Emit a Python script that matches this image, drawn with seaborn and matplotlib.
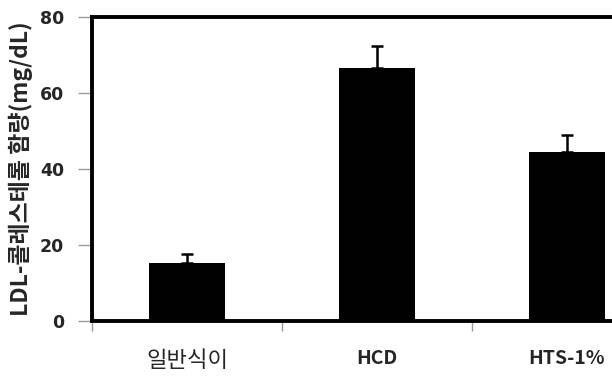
import matplotlib
matplotlib.use("Agg")
import matplotlib.pyplot as plt
import seaborn as sns
import pandas as pd

categories = ["일반식이", "HCD", "HTS-1%"]
values = [15.3, 66.7, 44.6]
errors = [2.4, 5.7, 4.3]
y_ticks = [0, 20, 40, 60, 80]
y_label = "LDL-콜레스테롤 함량(mg/dL)"

sns.set_theme(style="white")
plt.rcParams['font.family'] = ['Noto Sans CJK KR', 'DejaVu Sans']

df = pd.DataFrame({"group": categories, "value": values})

fig = plt.figure(figsize=(6.12, 3.76), dpi=100)
ax = fig.add_axes([92/612, 1-321/376, 570/612, (321-17)/376])

sns.barplot(data=df, x="group", y="value", color="black", width=0.4,
            saturation=1, ax=ax, errorbar=None, edgecolor="none")
ax.errorbar(range(len(categories)), values,
            yerr=[[0]*len(errors), errors], fmt="none",
            ecolor="black", elinewidth=1.8, capsize=4.5, capthick=1.8)

ax.set_xlim(-0.5, 2.5)
ax.set_ylim(0, 80)
ax.set_yticks(y_ticks)
ax.set_yticklabels([str(t) for t in y_ticks], fontweight="bold", fontsize=12.5,
                   family=['DejaVu Sans'])
ax.set_xticks(range(len(categories)))
ax.set_xticklabels(categories, fontweight="bold", fontsize=14)
ax.set_xticks([-0.5, 0.5, 1.5, 2.5], minor=True)
ax.tick_params(axis="x", which="major", length=0, pad=20)
ax.tick_params(axis="x", which="minor", length=7, color="#999999", width=1,
               direction="out", bottom=True)
ax.tick_params(axis="y", length=10, color="#999999", width=1, direction="out",
               left=True, pad=10)
labels = ax.get_xticklabels()
labels[0].set_fontweight("normal")
labels[0].set_fontsize(16)
ax.set_xlabel("")
ax.set_ylabel(y_label, fontweight="bold", fontsize=16.5, labelpad=5)

for s in ["top", "left", "bottom"]:
    ax.spines[s].set_visible(True)
    ax.spines[s].set_color("black")
    ax.spines[s].set_linewidth(2.8)
ax.spines["right"].set_visible(False)

fig.savefig("out.png", dpi=100)
